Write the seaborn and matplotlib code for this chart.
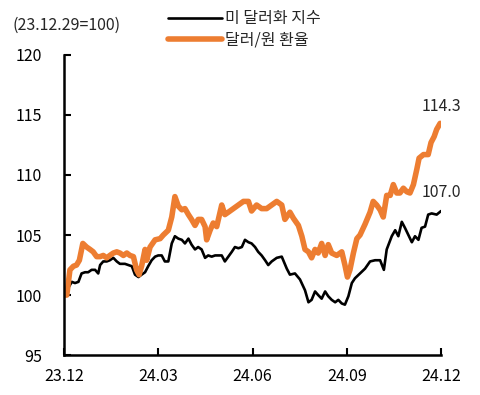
import matplotlib
matplotlib.use('Agg')
import matplotlib.pyplot as plt
import seaborn as sns
import pandas as pd

# x = months after 23.12.29 (0 .. 12), values indexed 23.12.29 = 100
usd_x = [0.0, 0.25, 0.35, 0.46, 0.56, 0.67, 0.77, 0.88, 0.99, 1.09,
         1.15, 1.25, 1.36, 1.46, 1.57, 1.68, 1.78, 1.94, 2.05, 2.16,
         2.26, 2.37, 2.47, 2.58, 2.68, 2.79, 2.9, 3.0, 3.11, 3.21,
         3.32, 3.43, 3.53, 3.64, 3.75, 3.85, 3.96, 4.06, 4.17, 4.27,
         4.38, 4.49, 4.59, 4.7, 4.81, 4.91, 5.02, 5.12, 5.23, 5.34,
         5.44, 5.55, 5.66, 5.76, 5.87, 5.97, 6.08, 6.18, 6.29, 6.4,
         6.5, 6.61, 6.77, 6.93, 7.09, 7.19, 7.35, 7.51, 7.67, 7.78,
         7.88, 7.99, 8.09, 8.2, 8.31, 8.41, 8.52, 8.63, 8.73, 8.84,
         8.94, 9.05, 9.16, 9.26, 9.42, 9.58, 9.74, 9.9, 10.06, 10.18,
         10.27, 10.43, 10.54, 10.64, 10.75, 10.85, 10.96, 11.07, 11.17, 11.28,
         11.38, 11.49, 11.59, 11.7, 11.86, 12.0]
usd_v = [100.0, 101.1, 101.0, 101.1, 101.8, 101.9, 101.9, 102.1, 102.1, 101.8,
         102.5, 102.8, 102.8, 102.9, 103.1, 102.8, 102.6, 102.6, 102.5, 102.4,
         101.7, 101.5, 101.7, 101.9, 102.4, 102.9, 103.2, 103.3, 103.3, 102.8,
         102.8, 104.3, 104.9, 104.7, 104.6, 104.3, 104.7, 104.2, 103.8, 104.0,
         103.8, 103.1, 103.3, 103.2, 103.3, 103.3, 103.3, 102.8, 103.2, 103.6,
         104.0, 103.9, 104.0, 104.6, 104.4, 104.3, 104.0, 103.6, 103.3, 102.9,
         102.5, 102.8, 103.1, 103.2, 102.2, 101.7, 101.8, 101.3, 100.4, 99.4,
         99.6, 100.3, 100.0, 99.7, 100.3, 99.9, 99.6, 99.4, 99.6, 99.3,
         99.2, 99.9, 101.0, 101.4, 101.8, 102.2, 102.8, 102.9, 102.9, 102.1,
         103.8, 104.9, 105.4, 104.9, 106.1, 105.6, 105.0, 104.4, 104.9, 104.6,
         105.6, 105.7, 106.7, 106.8, 106.7, 107.0]

krw_x = [0.0, 0.09, 0.19, 0.3, 0.4, 0.49, 0.6, 0.72, 0.83, 0.93,
         1.04, 1.15, 1.25, 1.36, 1.46, 1.57, 1.68, 1.78, 1.89, 2.0,
         2.1, 2.21, 2.31, 2.39, 2.47, 2.58, 2.63, 2.74, 2.9, 3.06,
         3.16, 3.32, 3.43, 3.53, 3.64, 3.75, 3.85, 3.96, 4.06, 4.17,
         4.27, 4.38, 4.49, 4.54, 4.65, 4.75, 4.86, 5.02, 5.12, 5.23,
         5.39, 5.55, 5.71, 5.87, 5.97, 6.13, 6.29, 6.45, 6.61, 6.77,
         6.93, 7.03, 7.19, 7.3, 7.46, 7.57, 7.67, 7.78, 7.88, 7.99,
         8.09, 8.2, 8.31, 8.41, 8.52, 8.68, 8.84, 8.94, 9.02, 9.1,
         9.21, 9.32, 9.42, 9.58, 9.74, 9.84, 9.95, 10.06, 10.16, 10.27,
         10.38, 10.48, 10.59, 10.69, 10.8, 10.91, 11.01, 11.12, 11.23, 11.3,
         11.44, 11.59, 11.68, 11.78, 11.86, 11.97]
krw_v = [100.0, 100.0, 102.1, 102.4, 102.5, 102.9, 104.3, 104.0, 103.8, 103.6,
         103.2, 103.2, 103.3, 103.1, 103.3, 103.5, 103.6, 103.5, 103.3, 103.5,
         103.3, 103.2, 102.1, 101.7, 102.4, 103.8, 102.9, 104.0, 104.6, 104.7,
         105.0, 105.4, 106.5, 108.2, 107.4, 107.1, 107.2, 106.7, 106.3, 105.8,
         106.3, 106.3, 105.7, 104.6, 105.4, 106.0, 105.7, 107.5, 106.7, 106.9,
         107.2, 107.5, 107.8, 107.8, 107.0, 107.5, 107.2, 107.2, 107.5, 107.8,
         107.5, 106.3, 106.9, 106.4, 105.8, 104.9, 103.8, 103.6, 103.1, 103.8,
         103.5, 104.3, 103.3, 104.2, 103.5, 103.3, 103.6, 102.5, 101.5, 102.1,
         103.5, 104.7, 105.0, 105.9, 106.9, 107.8, 107.5, 107.1, 106.5, 108.3,
         108.3, 109.2, 108.5, 108.5, 108.9, 108.6, 108.5, 109.2, 110.5, 111.4,
         111.7, 111.7, 112.7, 113.2, 113.8, 114.3]

tick_pos = [0, 3, 6, 9, 12]
tick_labels = ['23.12', '24.03', '24.06', '24.09', '24.12']
usd_name = '미 달러화 지수'
krw_name = '달러/원 환율'

sns.set_style('white')
plt.rcParams['font.family'] = ['Noto Sans CJK KR', 'DejaVu Sans']

usd_df = pd.DataFrame({'x': usd_x, 'v': usd_v})
krw_df = pd.DataFrame({'x': krw_x, 'v': krw_v})

fig = plt.figure(figsize=(4.81, 3.95), dpi=100)
ax = fig.add_axes([0.133, 0.101, 0.784, 0.76])

sns.lineplot(data=usd_df, x='x', y='v', ax=ax, color='black', linewidth=1.9,
             label=usd_name, sort=False)
sns.lineplot(data=krw_df, x='x', y='v', ax=ax, color='#ED7D31', linewidth=4.0,
             label=krw_name, sort=False)

ax.set_xlim(0, 12)
ax.set_ylim(95, 120)
ax.set_xticks(tick_pos)
ax.set_xticklabels(tick_labels)
ax.set_yticks([95, 100, 105, 110, 115, 120])
ax.set_xlabel('')
ax.set_ylabel('')
ax.tick_params(direction='in', length=5, width=1.5, labelsize=11.5,
               colors='black', left=True, bottom=True)
ax.tick_params(axis='x', pad=9)
ax.tick_params(axis='y', pad=16)
for s in ['top', 'right']:
    ax.spines[s].set_visible(False)
for s in ['left', 'bottom']:
    ax.spines[s].set_linewidth(1.8)
    ax.spines[s].set_color('black')

# end-value labels
ax.text(12, usd_v[-1] + 1.5, '107.0', ha='center', va='center', fontsize=11.5)
ax.text(12, krw_v[-1] + 1.4, '114.3', ha='center', va='center', fontsize=11.5)
fig.text(0.027, 0.935, '(23.12.29=100)', fontsize=11.5, va='center')

ax.get_legend().remove()
handles, labels = ax.get_legend_handles_labels()
fig.legend(handles, labels, loc='upper left', bbox_to_anchor=(0.335, 0.99),
           frameon=False, fontsize=11.5, handlelength=3.4, handletextpad=0.2,
           labelspacing=0.25, borderaxespad=0)

fig.savefig('out.png', dpi=100)
